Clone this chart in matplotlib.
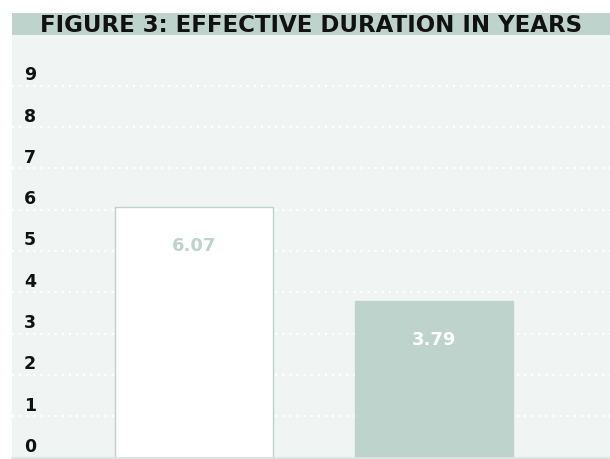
import matplotlib.pyplot as plt
from matplotlib.patches import Rectangle
from matplotlib.transforms import blended_transform_factory

# data
categories = ['Fund', 'Benchmark']
durations = [6.07, 3.79]
value_labels = ['6.07', '3.79']
yticks = [0, 1, 2, 3, 4, 5, 6, 7, 8, 9]
title = 'FIGURE 3: EFFECTIVE DURATION IN YEARS'

teal = '#BDD3CC'
panel = '#F0F4F3'

plt.rcParams['font.family'] = ['DejaVu Sans']

fig = plt.figure(figsize=(6.1, 4.6), dpi=100)
W, H = 610, 460

# title band
fig.patches.append(Rectangle((12 / W, 1 - 36 / H), 1 - 12 / W, 22 / H,
                             transform=fig.transFigure, facecolor=teal,
                             edgecolor='none', zorder=0))
fig.text(311 / W, 1 - 25 / H, title, ha='center', va='center',
         fontsize=16.5, fontweight='bold', color='#111111')

ax = fig.add_axes([12 / W, 1.4 / H, 1 - 12 / W, (458.6 - 36) / H])
ax.set_facecolor(panel)
ax.set_ylim(0, 10.23)
ax.set_xlim(-0.758, 1.733)
for s in ['top', 'right', 'left']:
    ax.spines[s].set_visible(False)
ax.spines['bottom'].set_color('#D8E2DF')
ax.spines['bottom'].set_linewidth(1.2)
ax.set_xticks([])
ax.set_yticks([])

for v in yticks[1:]:
    ax.axhline(v, color='white', linestyle=(0, (1, 2.2)), linewidth=1.6,
               zorder=1)

x = range(len(categories))
bars = ax.bar(x, durations, width=0.66, color=['white', teal],
              edgecolor=[teal, teal], linewidth=1, zorder=2)

txt_colors = [teal, 'white']
for i, (v, lab) in enumerate(zip(durations, value_labels)):
    ax.text(i, v - 0.93, lab, ha='center', va='center', fontsize=13,
            fontweight='bold', color=txt_colors[i], zorder=3)

trans = blended_transform_factory(fig.transFigure, ax.transData)
for v in yticks:
    ax.text(30 / W, v + 0.28, str(v), transform=trans, ha='center',
            va='center', fontsize=12.5, fontweight='bold', color='#111111')

fig.savefig('out.png', dpi=100)
